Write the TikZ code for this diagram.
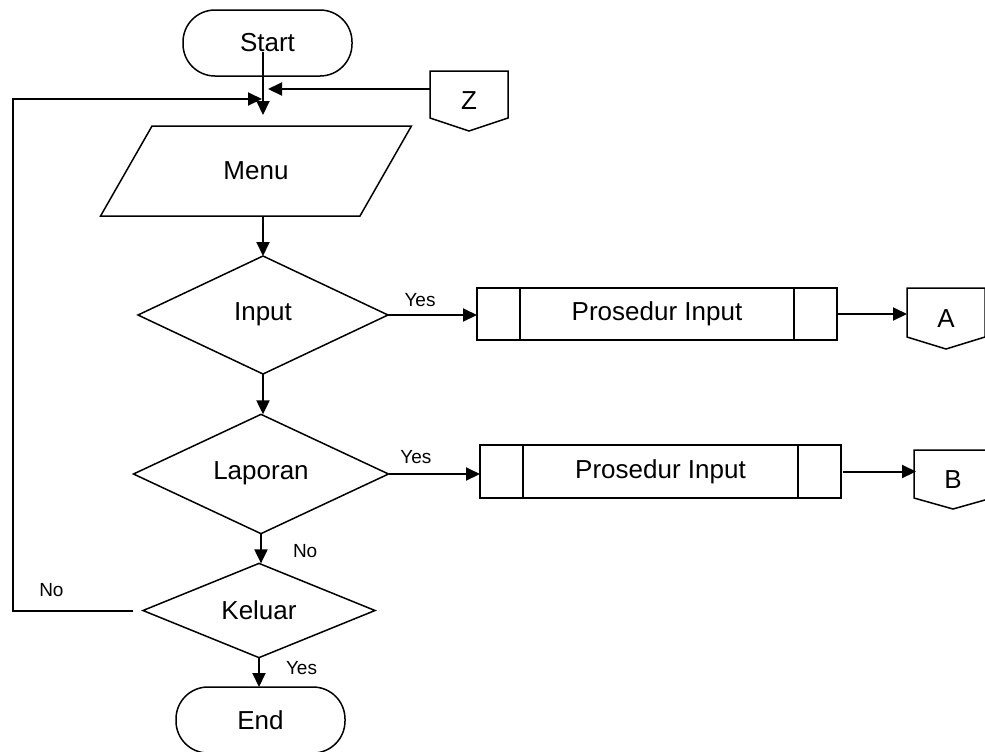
\documentclass[tikz,border=0pt]{standalone}
\usepackage{fontspec}
\setmainfont{Liberation Sans}
\usetikzlibrary{shapes.geometric,arrows.meta}
\begin{document}
\begin{tikzpicture}[x=0.5pt,y=-0.5pt,
	every node/.style={font=\fontsize{13}{15}\selectfont, inner sep=0pt, outer sep=0pt, line width=0.75pt},
	terminal/.style={draw, rounded corners=16pt, minimum width=84.5pt, minimum height=33pt},
	decision/.style={draw, diamond},
	io/.style={draw, trapezium, trapezium left angle=48.4, trapezium right angle=131.6, trapezium stretches=true, minimum width=156pt, minimum height=45pt},
	procbox/.style={draw, rectangle, minimum height=26pt},
	offpage/.style={minimum width=39pt},
	lbl/.style={font=\fontsize{9.5}{11}\selectfont},
	arr/.style={line width=1pt, -{Triangle[length=7pt,width=6.5pt]}}]
	\useasboundingbox (0,0) rectangle (985,751);
	% main column
	\node[terminal] (start) at (267.5,43) {Start};
	\node[io] (menu) at (256,171) {Menu};
	\node[decision, minimum width=125pt, minimum height=59pt] (input) at (263,315) {\raisebox{3pt}{Input}};
	\node[decision, minimum width=127.5pt, minimum height=59pt] (laporan) at (261,474) {\raisebox{3pt}{Laporan}};
	\node[decision, minimum width=116pt, minimum height=46.5pt] (keluar) at (259,610.5) {Keluar};
	\node[terminal] (end) at (260.5,720) {End};
	% procedures and connectors
	\node[procbox, minimum width=180pt] (p1) at (657,314) {Prosedur Input};
	\node[procbox, minimum width=180.5pt, minimum height=26.5pt] (p2) at (660.5,471.5) {Prosedur Input};
	\node[offpage, minimum height=30pt] (z) at (469,101) {Z};
	\node[offpage, minimum height=30.5pt] (a) at (946,318.5) {A};
	\node[offpage, minimum height=29.5pt] (b) at (953,479.5) {B};
	\foreach \p in {p1,p2}
		\draw[line width=0.75pt] ([xshift=21.5pt]\p.north west) -- ([xshift=21.5pt]\p.south west)
			([xshift=-21.5pt]\p.north east) -- ([xshift=-21.5pt]\p.south east);
	\foreach \c/\d in {z/6.5pt,a/6pt,b/5.5pt}
		\draw[line width=0.75pt] (\c.north west) -- (\c.north east) -- ([yshift=\d]\c.south east)
			-- (\c.south) -- ([yshift=\d]\c.south west) -- cycle;
	% junction points
	\coordinate (s0) at (263,52);
	\coordinate (jd) at (263,115);
	\coordinate (jz) at (268,89);
	\coordinate (jl) at (262,99);
	\coordinate (lp) at (13,99);
	% flow
	\draw[arr] (s0) -- (jd);
	\draw[arr] ([yshift=-9pt]z.north west) -- (jz);
	\draw[arr] ([xshift=-5pt]keluar.west) -| node[lbl, pos=0.34, above=7pt] {No} (lp) -- (jl);
	\draw[arr] (menu.south -| input.north) -- (input.north);
	\draw[arr] (input.south) -- (input.south |- laporan.north);
	\draw[arr] (laporan.south) -- node[lbl, pos=0.58, right=16pt] {No} (laporan.south |- keluar.north);
	\draw[arr] (keluar.south) -- node[lbl, pos=0.37, right=13.5pt] {Yes} (keluar.south |- end.north);
	\draw[arr] (input.east) -- node[lbl, pos=0.36, above=4pt] {Yes} (input.east -| p1.west);
	\draw[arr] (laporan.east) -- node[lbl, pos=0.3, above=5pt] {Yes} (laporan.east -| p2.west);
	\draw[arr] (p1.east) -- (p1.east -| a.west);
	\draw[arr] ([xshift=1pt]p2.east) -- ([xshift=1pt]p2.east -| b.west);
\end{tikzpicture}
\end{document}
